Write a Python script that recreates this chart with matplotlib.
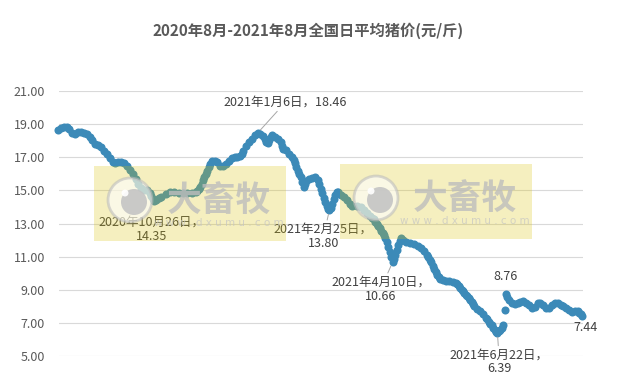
import matplotlib.pyplot as plt
import matplotlib.patches as mpatches
import pandas as pd

plt.rcParams['font.family'] = ['Noto Sans CJK SC', 'DejaVu Sans']

# daily national average hog price (yuan / jin)
start = pd.Timestamp("2020-08-20")
day_offsets = [
    0, 2, 4, 6, 8, 10, 12, 14, 16, 18, 20, 22, 24, 26, 28, 30, 32, 34, 36, 38,
    40, 42, 44, 46, 48, 50, 52, 54, 56, 58, 60, 62, 64, 65, 66, 67, 68, 70, 72, 75,
    78, 81, 84, 87, 90, 93, 96, 97, 98, 99, 100, 101, 102, 103, 104, 105, 106, 107, 109, 111,
    113, 115, 117, 119, 121, 123, 125, 127, 128, 129, 131, 133, 135, 137, 139, 141, 143, 144, 145, 146,
    147, 148, 149, 151, 153, 155, 156, 157, 159, 161, 163, 164, 165, 166, 167, 168, 169, 170, 171, 172,
    173, 175, 177, 179, 181, 182, 183, 184, 185, 186, 187, 188, 189, 190, 191, 192, 193, 194, 195, 197,
    199, 201, 203, 205, 208, 211, 213, 215, 217, 219, 220, 221, 222, 223, 224, 225, 226, 227, 228, 229,
    230, 231, 232, 233, 234, 235, 236, 237, 238, 239, 240, 242, 245, 248, 251, 253, 255, 257, 258, 259,
    260, 261, 262, 263, 264, 265, 266, 268, 270, 272, 275, 277, 278, 279, 280, 281, 282, 283, 284, 285,
    286, 287, 288, 289, 290, 292, 294, 296, 298, 299, 300, 301, 302, 303, 304, 305, 306, 307, 308, 309,
    310, 311, 312, 313, 314, 316, 318, 320, 322, 324, 326, 328, 330, 332, 334, 336, 338, 340, 342, 344,
    346, 348, 350, 352, 354, 356, 358, 360, 362, 363, 364, 365,
]
prices = [
    18.64, 18.75, 18.85, 18.85, 18.68, 18.46, 18.42, 18.50, 18.54, 18.48, 18.40, 18.25, 18.02, 17.82, 17.72, 17.62, 17.40, 17.20, 16.97, 16.70,
    16.64, 16.70, 16.72, 16.67, 16.50, 16.25, 15.98, 15.68, 15.38, 15.12, 15.02, 15.00, 14.82, 14.65, 14.48, 14.35, 14.42, 14.52, 14.62, 14.78,
    14.88, 14.92, 14.86, 14.82, 14.82, 14.84, 14.90, 14.98, 15.08, 15.22, 15.40, 15.60, 15.78, 16.00, 16.20, 16.40, 16.62, 16.78, 16.76, 16.70,
    16.50, 16.45, 16.60, 16.80, 16.96, 17.00, 17.00, 17.05, 17.22, 17.40, 17.65, 17.90, 18.10, 18.32, 18.46, 18.42, 18.30, 18.10, 17.90, 17.88,
    18.05, 18.25, 18.34, 18.22, 18.10, 17.90, 17.70, 17.48, 17.44, 17.22, 17.00, 16.85, 16.65, 16.40, 16.15, 15.98, 15.80, 15.50, 15.22, 15.40,
    15.55, 15.66, 15.74, 15.79, 15.65, 15.40, 15.10, 14.85, 14.55, 14.30, 14.05, 13.90, 13.80, 13.95, 14.20, 14.45, 14.70, 14.90, 14.92, 14.75,
    14.60, 14.40, 14.20, 14.08, 14.05, 13.98, 13.80, 13.62, 13.48, 13.35, 13.25, 13.10, 12.95, 12.82, 12.70, 12.55, 12.42, 12.28, 12.15, 11.90,
    11.60, 11.30, 11.00, 10.66, 10.85, 11.10, 11.40, 11.70, 11.95, 12.10, 12.02, 11.90, 11.82, 11.78, 11.65, 11.52, 11.35, 11.10, 10.95, 10.80,
    10.65, 10.45, 10.25, 10.10, 9.90, 9.75, 9.66, 9.60, 9.55, 9.50, 9.47, 9.40, 9.32, 9.20, 9.10, 9.00, 8.90, 8.80, 8.70, 8.60,
    8.48, 8.38, 8.25, 8.12, 8.02, 7.85, 7.70, 7.52, 7.32, 7.22, 7.08, 6.96, 6.86, 6.72, 6.58, 6.45, 6.39, 6.50, 6.60, 6.72,
    6.85, 7.78, 8.76, 8.55, 8.38, 8.20, 8.12, 8.20, 8.28, 8.32, 8.22, 8.05, 7.90, 7.95, 8.20, 8.18, 8.05, 7.88, 7.90, 8.05,
    8.18, 8.22, 8.10, 8.00, 7.90, 7.80, 7.65, 7.70, 7.72, 7.62, 7.52, 7.44,
]
dates = start + pd.to_timedelta(day_offsets, unit="D")

y_ticks = [5, 7, 9, 11, 13, 15, 17, 19, 21]

# labelled points: day offset and text
label_days = [67, 139, 189, 233, 306, 312, 365]
label_texts = [
    "2020年10月26日，\n14.35",
    "2021年1月6日，18.46",
    "2021年2月25日，\n13.80",
    "2021年4月10日，\n10.66",
    "2021年6月22日，\n6.39",
    "8.76",
    "7.44",
]

title = "2020年8月-2021年8月全国日平均猪价(元/斤)"

BLUE = "#3C8AB8"
W, H = 617, 381

fig = plt.figure(figsize=(W / 100, H / 100), dpi=100)
ax = fig.add_axes([59 / W, 1 - 356 / H, 524 / W, 265 / H])

ax.plot(dates, prices, "o", ms=5.8, color=BLUE, mec=BLUE, mew=0, clip_on=False, zorder=3)

ax.set_ylim(5, 21)
ax.set_xlim(start + pd.Timedelta(days=0.7), start + pd.Timedelta(days=365.6))
ax.set_yticks(y_ticks)
ax.set_yticklabels([f"{v:.2f}" for v in y_ticks], color="#595959", fontsize=9)
ax.set_xticks([])
ax.tick_params(axis="y", length=0, pad=10)
ax.grid(axis="y", color="#D9D9D9", lw=0.8)
ax.set_axisbelow(True)
for s in ax.spines.values():
    s.set_visible(False)

# label offsets in pixels from the point, and whether to draw a leader line
offsets = [(-3, -28), (28, 31), (-6, -26), (-12, -27), (2, -29), (-1, 17), (3, -12)]
leaders = [False, True, True, True, True, False, False]
for d, txt, (dx, dy), lead in zip(label_days, label_texts, offsets, leaders):
    val = prices[day_offsets.index(d)]
    arrow = dict(arrowstyle="-", color="#A6A6A6", lw=0.7, shrinkA=0, shrinkB=3) if lead else None
    ax.annotate(txt, xy=(start + pd.Timedelta(days=d), val), xytext=(dx, dy),
                textcoords="offset pixels", ha="center", va="center",
                fontsize=9, color="#404040", linespacing=1.1,
                arrowprops=arrow, zorder=5)

fig.text(308 / W, 1 - 31 / H, title, ha="center", va="center",
         fontsize=11, fontweight="bold", color="#595959")


def px(x, y):
    return (x / W, 1 - y / H)


def watermark(x0, y0):
    fig.add_artist(mpatches.Rectangle(px(x0, y0 + 75), 192 / W, 75 / H,
                                      transform=fig.transFigure, facecolor="#DBC303",
                                      alpha=0.25, edgecolor="none", zorder=10))
    cx, cy = x0 + 36, y0 + 34
    fig.add_artist(mpatches.Ellipse(px(cx, cy), 44 / W, 44 / H, transform=fig.transFigure,
                                    facecolor="white", edgecolor="#BDBDBD", lw=2,
                                    alpha=0.6, zorder=11))
    fig.add_artist(mpatches.Ellipse(px(cx + 4, cy + 2), 26 / W, 26 / H, transform=fig.transFigure,
                                    facecolor="#C4C4C4", edgecolor="none", alpha=0.9, zorder=12))
    fig.add_artist(mpatches.Ellipse(px(cx - 5, cy - 7), 7 / W, 7 / H, transform=fig.transFigure,
                                    facecolor="white", edgecolor="none", alpha=0.9, zorder=13))
    fig.text(*px(x0 + 125, y0 + 34), "大畜牧", ha="center", va="center", fontsize=25,
             fontweight="bold", color="#BDBDBD", alpha=0.8, zorder=12)
    fig.text(*px(x0 + 125, y0 + 57), "w w w . d x u m u . c o m", ha="center", va="center",
             fontsize=7.5, color="#C4C4C4", alpha=0.7, zorder=12, family="DejaVu Sans")


watermark(94, 166)
watermark(340, 164)

fig.savefig("out.png", dpi=100)
